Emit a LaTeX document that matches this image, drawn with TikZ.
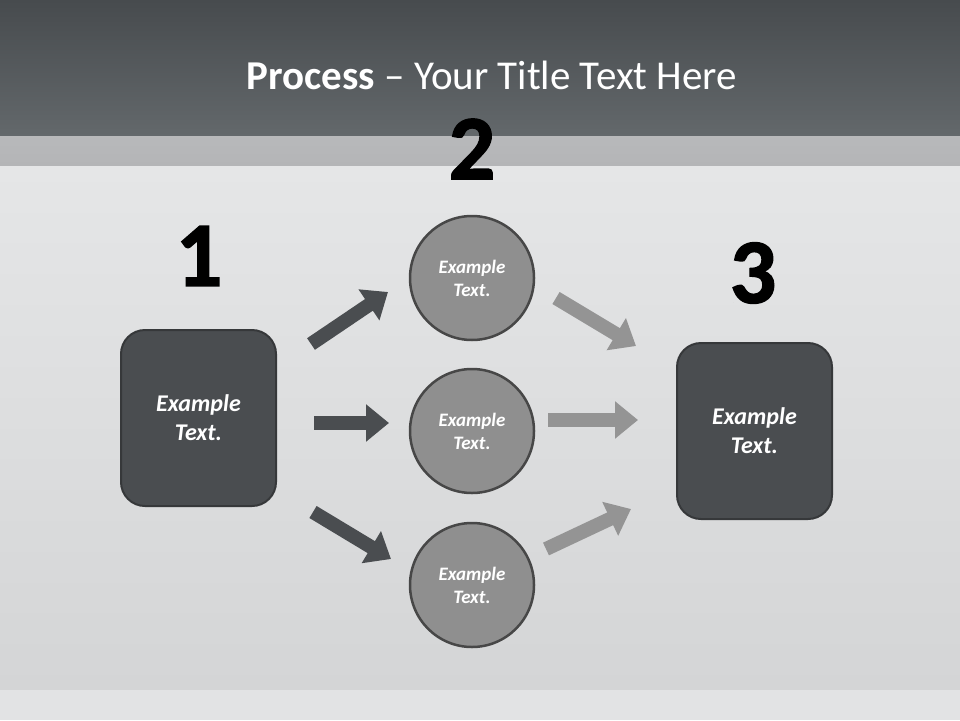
\documentclass[tikz,border=0pt]{standalone}
\usepackage{fontspec}
\setmainfont{Carlito}
\newfontfamily\numfont{Carlito}[UprightFont=* Bold,FakeBold=1.6]
\usetikzlibrary{arrows.meta}
\definecolor{hdtop}{HTML}{474B4E}
\definecolor{hdbot}{HTML}{63686B}
\definecolor{band}{HTML}{B4B5B7}
\definecolor{bodyt}{HTML}{E5E6E7}
\definecolor{bodyb}{HTML}{D4D5D6}
\definecolor{floorc}{HTML}{E2E3E4}
\definecolor{boxfill}{HTML}{4A4D50}
\definecolor{boxdraw}{HTML}{36383A}
\definecolor{circfill}{HTML}{8F8F8F}
\definecolor{circdraw}{HTML}{474747}
\definecolor{darkarrow}{HTML}{4A4D50}
\definecolor{lightarrow}{HTML}{949494}
\tikzset{
  x=1pt,y=-1pt,
  stepbox/.style={draw=boxdraw,line width=2pt,fill=boxfill,rounded corners=24pt,minimum width=155pt,minimum height=176pt,inner sep=0pt,text=white,font=\fontsize{24}{29}\selectfont\bfseries\itshape,align=center},
  stepcirc/.style={circle,draw=circdraw,line width=2.5pt,fill=circfill,minimum size=124pt,inner sep=0pt,text=white,font=\fontsize{19}{23}\selectfont\bfseries\itshape,align=center},
  bignum/.style={font=\fontsize{92}{92}\numfont,text=black,inner sep=0pt},
  fatarrow/.style={line width=14pt,-{Triangle[length=23pt,width=36pt]}},
  darkar/.style={fatarrow,draw=darkarrow},
  lightar/.style={fatarrow,draw=lightarrow},
}
\begin{document}
\begin{tikzpicture}
\useasboundingbox (0,0) rectangle (960,720);
% background
\shade[top color=hdtop,bottom color=hdbot] (0,0) rectangle (960,136);
\shade[top color=band!95!white,bottom color=band] (0,136) rectangle (960,166);
\shade[top color=bodyt,bottom color=bodyb] (0,166) rectangle (960,690);
\fill[floorc] (0,690) rectangle (960,720);
% title
\node[text=white,font=\fontsize{41}{44}\selectfont,inner sep=0pt] (title) at (492,75) {\textbf{Process} – Your Title Text Here};
% numbers
\node[bignum] (n2) at (472,149) {2};
\node[bignum] (n1) at (199,256) {1};
\node[bignum] (n3) at (753,273) {3};
% steps
\node[stepbox] (b1) at (198.5,418) {Example\\Text.};
\node[stepbox] (b3) at (754.5,431) {Example\\Text.};
\node[stepcirc] (c1) at (472,278) {Example\\Text.};
\node[stepcirc] (c2) at (472,431) {Example\\Text.};
\node[stepcirc] (c3) at (472,585) {Example\\Text.};
% arrow ends
\coordinate (a1s) at (311,344); \coordinate (a1e) at (388,292);
\coordinate (a2s) at (314,423); \coordinate (a2e) at (389,423);
\coordinate (a3s) at (313,512); \coordinate (a3e) at (391,559);
\coordinate (a4s) at (556,298); \coordinate (a4e) at (636,346);
\coordinate (a5s) at (548,420); \coordinate (a5e) at (638,420);
\coordinate (a6s) at (546,549); \coordinate (a6e) at (631,509);
\draw[darkar] (a1s) -- (a1e);
\draw[darkar] (a2s) -- (a2e);
\draw[darkar] (a3s) -- (a3e);
\draw[lightar] (a4s) -- (a4e);
\draw[lightar] (a5s) -- (a5e);
\draw[lightar] (a6s) -- (a6e);
\end{tikzpicture}
\end{document}
